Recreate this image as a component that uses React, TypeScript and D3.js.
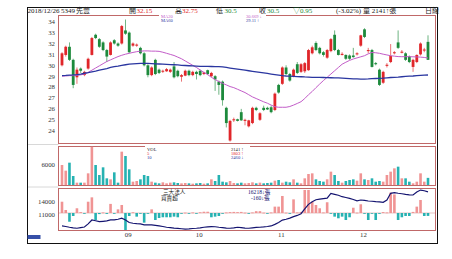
import React from 'react';
import * as d3 from 'd3';

const W = 452;
const H = 259;

// ---- data ----
const opens = [30.0, 30.95, 31.7, 30.5, 28.9, 29.7, 29.1, 29.7, 30.95, 32.8, 32.4, 32.1, 31.4, 30.95, 32.3, 32.0, 32.0, 33.2, 33.0, 31.8, 31.8, 31.6, 31.1, 30.0, 29.1, 30.5, 29.6, 29.45, 29.45, 29.4, 29.9, 29.5, 28.95, 29.05, 29.5, 29.1, 29.4, 29.5, 29.2, 29.55, 29.0, 29.0, 28.5, 28.5, 26.1, 23.1, 24.95, 25.05, 25.7, 24.9, 24.4, 24.7, 26.1, 25.0, 26.1, 26.1, 26.15, 25.9, 28.2, 28.3, 29.8, 29.2, 29.0, 30.1, 29.4, 29.45, 29.55, 31.1, 32.05, 31.6, 31.2, 30.7, 31.3, 32.8, 31.4, 30.95, 30.95, 30.9, 30.9, 31.0, 31.8, 33.3, 31.3, 31.4, 30.2, 29.6, 28.4, 29.95, 30.3, 31.1, 32.1, 31.15, 31.1, 30.8, 29.85, 30.3, 31.0, 31.35, 32.15];
const highs = [31.2, 31.8, 32.1, 30.6, 29.8, 29.8, 29.5, 30.7, 32.6, 32.9, 32.5, 32.2, 31.5, 32.2, 32.4, 32.1, 33.7, 34.2, 33.1, 32.1, 32.0, 31.7, 31.2, 30.1, 29.9, 30.6, 29.7, 29.6, 29.75, 29.7, 30.3, 29.6, 29.2, 29.6, 29.6, 29.5, 29.5, 29.6, 29.4, 29.6, 29.4, 29.1, 28.6, 28.6, 26.2, 25.0, 25.2, 25.1, 26.0, 25.1, 25.0, 26.2, 26.2, 25.7, 26.3, 26.2, 26.3, 27.5, 28.3, 29.9, 30.0, 29.3, 29.7, 30.3, 30.2, 30.3, 31.5, 31.8, 32.2, 31.7, 31.3, 31.5, 32.5, 33.2, 31.5, 31.2, 31.0, 31.0, 31.6, 31.2, 32.8, 33.4, 31.6, 31.5, 30.3, 29.7, 29.5, 30.2, 31.95, 31.3, 33.2, 31.4, 31.2, 30.9, 30.6, 31.0, 32.1, 31.6, 32.75];
const lows = [29.9, 30.8, 30.4, 27.9, 28.3, 29.3, 29.0, 29.6, 30.9, 32.4, 31.6, 31.3, 30.3, 30.9, 31.9, 31.7, 31.9, 32.8, 31.1, 31.7, 31.7, 31.0, 29.9, 28.9, 29.0, 29.1, 29.2, 29.3, 29.4, 29.3, 28.8, 28.9, 28.5, 29.0, 29.0, 29.0, 28.7, 29.0, 29.1, 29.1, 28.9, 27.65, 27.3, 26.3, 24.3, 23.0, 24.8, 24.85, 24.9, 24.5, 24.3, 24.6, 25.8, 24.9, 25.8, 25.9, 25.6, 25.8, 27.4, 28.2, 29.1, 28.5, 28.9, 29.2, 29.3, 29.3, 29.5, 31.0, 31.3, 31.0, 30.8, 30.6, 31.2, 31.3, 30.9, 30.9, 30.5, 30.5, 30.7, 30.9, 31.7, 32.5, 31.1, 29.8, 30.0, 28.1, 28.3, 29.8, 30.2, 31.0, 31.5, 31.1, 30.4, 30.2, 29.4, 30.2, 30.9, 31.2, 30.5];
const closes = [31.1, 31.7, 30.5, 28.2, 29.6, 29.5, 29.4, 30.6, 32.5, 32.5, 31.7, 31.4, 30.8, 32.1, 32.0, 31.8, 33.6, 32.9, 31.2, 32.0, 31.9, 31.1, 30.0, 29.1, 29.8, 29.2, 29.3, 29.5, 29.65, 29.6, 28.9, 29.0, 29.1, 29.5, 29.1, 29.4, 29.2, 29.1, 29.35, 29.2, 29.3, 28.7, 28.2, 26.8, 24.7, 24.9, 25.05, 24.9, 24.95, 25.0, 24.95, 26.1, 25.9, 25.6, 25.9, 25.95, 25.7, 27.4, 27.5, 29.8, 29.2, 28.6, 29.6, 29.3, 30.1, 30.2, 31.4, 31.65, 31.4, 31.1, 30.95, 31.4, 32.4, 31.4, 30.95, 31.05, 30.6, 30.6, 30.75, 31.1, 32.75, 32.6, 31.4, 29.85, 30.1, 28.2, 29.4, 30.05, 30.85, 31.2, 31.6, 31.25, 30.5, 30.3, 30.5, 30.95, 32.0, 31.45, 30.5];
const volumes = [6000, 4300, 6700, 2700, 700, 700, 700, 3500, 11500, 6000, 3000, 5300, 2000, 1700, 3800, 700, 10000, 8700, 4700, 1000, 1200, 1700, 3000, 2700, 1000, 700, 500, 800, 500, 700, 800, 600, 500, 600, 500, 400, 500, 600, 400, 500, 1700, 1200, 3000, 1000, 800, 1200, 600, 500, 700, 500, 600, 800, 500, 700, 500, 600, 700, 1300, 1500, 700, 1000, 800, 1700, 700, 500, 2000, 3300, 3500, 1700, 1200, 1000, 1700, 4000, 3000, 1200, 700, 1200, 1500, 1700, 1300, 3500, 1700, 1500, 2000, 1000, 1200, 1000, 3000, 4000, 5000, 5500, 2000, 2000, 1000, 500, 1000, 3500, 1000, 2141];
const ma20 = [29.0, 29.02, 29.05, 29.05, 29.08, 29.12, 29.2, 29.35, 29.55, 29.75, 29.95, 30.15, 30.35, 30.5, 30.65, 30.8, 30.92, 31.02, 31.1, 31.18, 31.25, 31.3, 31.32, 31.32, 31.3, 31.3, 31.28, 31.2, 31.1, 31.0, 30.9, 30.75, 30.6, 30.4, 30.2, 30.0, 29.8, 29.57, 29.35, 29.15, 28.9, 28.7, 28.5, 28.35, 28.2, 28.05, 27.95, 27.8, 27.65, 27.5, 27.3, 27.1, 26.95, 26.8, 26.65, 26.52, 26.35, 26.2, 26.15, 26.15, 26.15, 26.22, 26.35, 26.5, 26.66, 26.95, 27.3, 27.6, 27.95, 28.28, 28.6, 28.9, 29.2, 29.5, 29.8, 30.1, 30.28, 30.45, 30.58, 30.68, 30.78, 30.88, 31.05, 31.18, 31.15, 31.1, 31.02, 30.95, 30.88, 30.84, 30.8, 30.79, 30.79, 30.79, 30.78, 30.77, 30.75, 30.72, 30.67];
const ma60 = [29.05, 29.07, 29.1, 29.12, 29.15, 29.2, 29.27, 29.33, 29.4, 29.47, 29.55, 29.63, 29.7, 29.8, 29.87, 29.93, 30.0, 30.05, 30.1, 30.13, 30.16, 30.18, 30.18, 30.17, 30.15, 30.13, 30.12, 30.1, 30.08, 30.06, 30.05, 30.03, 30.0, 29.98, 29.96, 29.94, 29.92, 29.9, 29.9, 29.9, 29.89, 29.88, 29.87, 29.85, 29.8, 29.75, 29.7, 29.65, 29.6, 29.55, 29.5, 29.45, 29.4, 29.35, 29.3, 29.25, 29.2, 29.15, 29.1, 29.05, 29.02, 29.0, 28.98, 28.96, 28.95, 28.93, 28.92, 28.9, 28.9, 28.89, 28.88, 28.87, 28.86, 28.85, 28.84, 28.82, 28.8, 28.78, 28.76, 28.75, 28.74, 28.74, 28.75, 28.77, 28.79, 28.8, 28.82, 28.85, 28.88, 28.9, 28.92, 28.95, 28.98, 29.0, 29.02, 29.05, 29.07, 29.09, 29.11];
const instNet = [620, 165, -480, -165, 260, 50, -40, 620, 860, -385, -60, 30, -50, 500, -40, 200, 440, -935, -165, 40, -200, -30, -530, -20, 200, -385, -275, -235, -235, -235, -200, -235, -20, 20, -30, 30, -20, 40, 70, 70, -235, -200, -165, -20, 30, 50, 60, 50, 60, 20, -20, 30, 100, 100, 20, -20, 30, 350, 350, 935, 20, -30, 750, 30, 60, 1265, 1265, 620, 440, 260, 30, 590, -20, -200, -290, -200, -385, -235, 290, 20, 480, -30, -385, -20, -385, -20, 50, 30, 1120, 1020, -385, -235, -165, -165, 60, 350, 715, -165, -160];
const instHold = [8530, 8400, 8240, 8100, 8015, 8150, 8300, 9000, 9880, 9700, 9500, 9580, 9660, 9880, 9900, 10040, 10265, 9880, 9300, 9140, 9050, 8980, 8760, 8760, 8760, 8650, 8530, 8400, 8240, 8150, 8050, 8000, 7900, 7800, 7850, 7950, 8015, 8100, 8240, 8300, 8375, 8350, 8240, 8150, 8050, 8015, 8100, 8240, 8150, 8050, 8015, 8100, 8200, 8240, 8300, 8400, 8530, 8880, 9300, 9850, 10040, 10300, 10625, 10900, 11300, 12400, 13400, 14000, 14450, 14600, 14700, 14800, 15890, 15665, 15450, 15125, 14950, 14765, 14500, 14200, 14380, 14300, 14160, 14100, 14000, 13950, 13865, 14380, 15890, 16025, 15900, 15800, 15665, 15550, 15510, 16200, 16630, 16475, 16218];
const monthLabels = ['09', '10', '11', '12'];
const monthStart = [18, 37, 59, 81];
const priceTicks = [24, 25, 26, 27, 28, 29, 30, 31, 32, 33, 34];
const volTicks = [6000];
const holdTicks = [11000, 14000];

const RED = '#e0262a';
const GREEN = '#1d8a3c';
const PINK = '#f09494';
const TEAL = '#26b2b2';
const FRAME = '#c06868';
const MA20C = '#c25cc8';
const MA60C = '#2a36a0';
const NAVY = '#141470';
const FONT = "'Liberation Serif','Noto Sans CJK TC',serif";

export default function App() {
  const n = closes.length;
  const x = d3.scaleLinear().domain([0, n - 1]).range([62, 428]);
  const yP = d3.scaleLinear().domain([24, 34]).range([130.7, 21.7]);
  const yV = d3.scaleLinear().domain([0, 6000]).range([185, 165]);
  const yH = d3.scaleLinear().domain([11000, 14000]).range([215, 201.7]);
  const yN = d3.scaleLinear().domain([0, 1000]).range([213, 194.8]);

  const priceLine = d3.line<number>().x((_, i) => x(i)).y((d) => yP(d));
  const holdLine = d3.line<number>().x((_, i) => x(i)).y((d) => yH(d));

  const L = 58.5, R = 435.5;
  const pT = 15.5, pB = 143.5;
  const vT = 146.5, vB = 185.5;
  const iT = 188.5, iB = 230.5;

  return (
    <svg width={W} height={H} style={{ position: 'absolute', left: 0, top: 0, background: '#fff' }} fontFamily={FONT}>
      <defs>
        <clipPath id="cp"><rect x={L} y={pT} width={R - L} height={pB - pT} /></clipPath>
        <clipPath id="cv"><rect x={L} y={vT} width={R - L} height={vB - vT} /></clipPath>
        <clipPath id="ci"><rect x={L} y={iT} width={R - L} height={iB - iT} /></clipPath>
      </defs>
      <rect x={0} y={0} width={W} height={H} fill="#fff" />
      {/* outer frame */}
      <rect x={27.5} y={7.5} width={410} height={236} fill="none" stroke="#111" strokeWidth={1} />
      <line x1={28} x2={L} y1={144.5} y2={144.5} stroke="#d8d8d8" />
      <line x1={28} x2={L} y1={187} y2={187} stroke="#d8d8d8" />

      {/* header */}
      <g fontSize={7} fill="#222">
        <text x={27.5} y={12.6}>2018/12/26</text>
        <text x={61} y={12.6}>5349</text>
        <text x={76} y={12.6}>先豐</text>
        <text x={129} y={12.6}>開</text>
        <text x={136.5} y={12.6} fill={RED}>32.15</text>
        <text x={175} y={12.6}>高</text>
        <text x={182} y={12.6} fill={RED}>32.75</text>
        <text x={216} y={12.6}>低</text>
        <text x={224.5} y={12.6} fill={GREEN}>30.5</text>
        <text x={259} y={12.6}>收</text>
        <text x={267} y={12.6} fill={GREEN}>30.5</text>
        <text x={293} y={12.6} fill={GREEN}>▽0.95</text>
        <text x={336} y={12.6}>(-3.02%)</text>
        <text x={363} y={12.6}>量 2141↑張</text>
        <text x={425} y={12.6}>日線</text>
      </g>

      {/* panel frames */}
      <g fill="none" stroke={FRAME} strokeWidth={1}>
        <rect x={L} y={pT} width={R - L} height={pB - pT} />
        <rect x={L} y={vT} width={R - L} height={vB - vT} />
        <rect x={L} y={iT} width={R - L} height={iB - iT} />
      </g>
      <line x1={L} x2={R} y1={yN(0)} y2={yN(0)} stroke={FRAME} strokeDasharray="1,1" strokeWidth={0.8} />

      {/* y labels */}
      <g fontSize={6.8} fill="#333" textAnchor="end">
        {priceTicks.map((t) => (
          <text key={t} x={55} y={yP(t)} dy="0.35em">{t}</text>
        ))}
        {volTicks.map((t) => (
          <text key={t} x={55} y={yV(t)} dy="0.35em">{t}</text>
        ))}
        {holdTicks.map((t) => (
          <text key={t} x={55} y={yH(t)} dy="0.35em">{t}</text>
        ))}
      </g>

      {/* candles */}
      <g clipPath="url(#cp)">
        {closes.map((c, i) => {
          const o = opens[i];
          const col = c >= o ? RED : GREEN;
          const top = yP(Math.max(o, c));
          const h = Math.max(1, Math.abs(yP(o) - yP(c)));
          return (
            <g key={i}>
              <line x1={x(i)} x2={x(i)} y1={yP(highs[i])} y2={yP(lows[i])} stroke={col} strokeWidth={0.8} opacity={0.8} />
              <rect x={x(i) - 1.4} y={top} width={2.8} height={h} fill={col} />
            </g>
          );
        })}
        <path d={priceLine(ma20) || ''} fill="none" stroke={MA20C} strokeWidth={1} />
        <path d={priceLine(ma60) || ''} fill="none" stroke={MA60C} strokeWidth={1.3} />
      </g>

      {/* MA legend */}
      <rect x={159} y={14} width={107} height={11} fill="#fff" />
      <g fontSize={4.5}>
        <text x={161} y={18} fill={MA20C}>MA20</text>
        <text x={161} y={22.3} fill={MA60C}>MA60</text>
        <text x={246} y={18} fill={MA20C}>30.669 ↓</text>
        <text x={246} y={22.3} fill={MA60C}>29.11 ↑</text>
      </g>

      {/* volume */}
      <g clipPath="url(#cv)">
        {volumes.map((v, i) => (
          <rect key={i} x={x(i) - 1.3} y={yV(v)} width={2.6} height={vB - 0.5 - yV(v)}
            fill={closes[i] >= opens[i] ? PINK : TEAL} />
        ))}
      </g>
      <rect x={145} y={145} width={105} height={15} fill="#fff" />
      <g fontSize={4.6}>
        <text x={147} y={150.5} fill="#222">VOL</text>
        <text x={147} y={154.5} fill={RED}>5</text>
        <text x={147} y={158.5} fill={MA60C}>10</text>
        <text x={231} y={150.5} fill="#222">2141 ↑</text>
        <text x={231} y={154.5} fill={RED}>1803 ↑</text>
        <text x={231} y={158.5} fill={MA60C}>2460 ↓</text>
      </g>

      {/* institutional */}
      <g clipPath="url(#ci)">
        {instNet.map((v, i) => (
          <rect key={i} x={x(i) - 1.3} y={Math.min(yN(v), yN(0))} width={2.6}
            height={Math.max(0.8, Math.abs(yN(v) - yN(0)))} fill={v >= 0 ? PINK : TEAL} />
        ))}
        <path d={holdLine(instHold) || ''} fill="none" stroke={NAVY} strokeWidth={1.2} />
      </g>
      <g fontSize={5.6} fill="#222">
        <text x={163} y={193.5}>三大法人</text>
        <text x={161} y={199.5}>買賣超</text>
        <text x={248} y={193.5} fill={NAVY}>16218↓張</text>
        <text x={251} y={199.5} fill={NAVY}>-160↓張</text>
      </g>

      {/* month labels */}
      <g fontSize={6.8} fill="#333" textAnchor="middle">
        {monthLabels.map((m, k) => (
          <text key={m} x={x(monthStart[k]) - 1} y={237}>{m}</text>
        ))}
      </g>
      <rect x={27.5} y={235} width={13} height={4} fill="#3650a8" />
    </svg>
  );
}
